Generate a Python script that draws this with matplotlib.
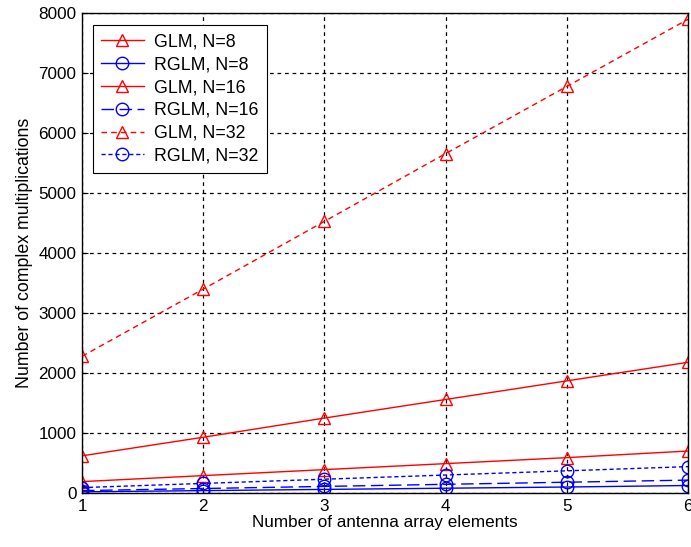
import matplotlib
matplotlib.use("Agg")
import matplotlib.pyplot as plt

# data
elements = [1, 2, 3, 4, 5, 6]
glm_8 = [190, 290, 390, 490, 590, 700]
rglm_8 = [20, 40, 60, 80, 100, 125]
glm_16 = [620, 930, 1250, 1560, 1870, 2180]
rglm_16 = [40, 75, 110, 145, 180, 215]
glm_32 = [2280, 3400, 4530, 5660, 6780, 7900]
rglm_32 = [90, 160, 230, 300, 370, 440]

plt.rcParams['font.family'] = ['Liberation Sans', 'DejaVu Sans']

fig = plt.figure(figsize=(6.91, 5.47), dpi=100)
ax = fig.add_axes([0.1187, 0.0987, 0.877, 0.877])

series = [
    ("GLM, N=8", glm_8, "red", "^", "-"),
    ("RGLM, N=8", rglm_8, "blue", "o", "-"),
    ("GLM, N=16", glm_16, "red", "^", "-"),
    ("RGLM, N=16", rglm_16, "blue", "o", (0, (9, 4))),
    ("GLM, N=32", glm_32, "red", "^", (0, (4, 3))),
    ("RGLM, N=32", rglm_32, "blue", "o", (0, (3, 2))),
]
for label, vals, color, marker, ls in series:
    ax.plot(elements, vals, color=color, marker=marker, linestyle=ls,
            markerfacecolor="none", markeredgecolor=color, markersize=9,
            linewidth=1, label=label)

ax.set_xlim(1, 6)
ax.set_ylim(0, 8000)
ax.set_xticks(elements)
ax.set_yticks(range(0, 8001, 1000))
ax.grid(True, color="black", linestyle=(0, (3, 3)), linewidth=0.9)
ax.tick_params(direction="in", labelsize=12.3, length=4, pad=4)
for s in ax.spines.values():
    s.set_linewidth(1)

ax.set_xlabel("Number of antenna array elements", fontsize=12.3, labelpad=1)
ax.set_ylabel("Number of complex multiplications", fontsize=12.8, labelpad=4)

leg = ax.legend(loc="upper left", bbox_to_anchor=(0.018, 0.975), borderaxespad=0,
                fontsize=12.8, frameon=True, fancybox=False, framealpha=1,
                edgecolor="black", handlelength=2.4, handletextpad=0.6,
                borderpad=0.45, labelspacing=0.33)
leg.get_frame().set_linewidth(0.8)

fig.savefig("out.png", dpi=100)
